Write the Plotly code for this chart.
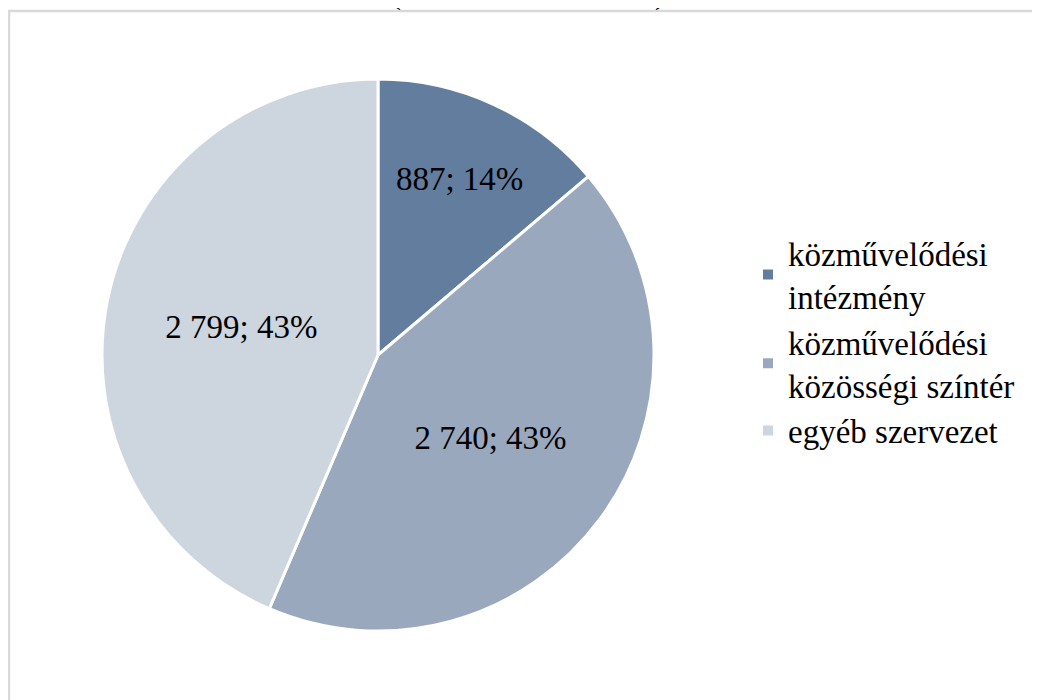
import plotly.graph_objects as go

categories = ["közművelődési<br>intézmény", "közművelődési<br>közösségi színtér", "egyéb szervezet"]
values = [887, 2740, 2799]
pct_labels = ["14%", "43%", "43%"]
colors = ["#637D9E", "#9AA8BE", "#CDD5DF"]

W, H = 1040, 700
FONT = "Liberation Serif"

labels = [f"{v:,}".replace(",", " ") + "; " + p for v, p in zip(values, pct_labels)]

fig = go.Figure()
fig.add_trace(go.Pie(
    labels=categories,
    values=values,
    text=labels,
    textinfo="text",
    textposition="inside",
    insidetextorientation="horizontal",
    sort=False,
    direction="clockwise",
    rotation=0,
    marker=dict(colors=colors, line=dict(color="white", width=3)),
    textfont=dict(family=FONT, size=33, color="black"),
    domain=dict(x=[94 / W, 646 / W], y=[77 / H, 629 / H]),
    hoverinfo="label+value+percent",
))

# frame around the chart area (cut off at right and bottom)
fig.add_shape(type="rect", xref="paper", yref="paper",
              x0=1 / W, x1=1.05, y0=-0.05, y1=1 - 3 / H,
              line=dict(color="#D9D9D9", width=2.5), layer="below")

# title cut off above the frame, only the tips of the parentheses show
for xp, ch in [(388, "("), (652, ")")]:
    fig.add_annotation(text=ch, xref="paper", yref="paper", x=xp / W, y=1 + 14 / H,
                       xanchor="center", yanchor="middle", showarrow=False,
                       font=dict(family=FONT, size=30, color="black"))

fig.update_layout(
    width=W, height=H,
    margin=dict(l=0, r=0, t=0, b=0),
    paper_bgcolor="white",
    font=dict(family=FONT, size=33, color="black"),
    showlegend=True,
    legend=dict(x=740 / W, y=1 - 334 / H, xanchor="left", yanchor="middle",
                font=dict(family=FONT, size=33, color="black"),
                itemsizing="constant"),
)

fig.write_html("out.html")
